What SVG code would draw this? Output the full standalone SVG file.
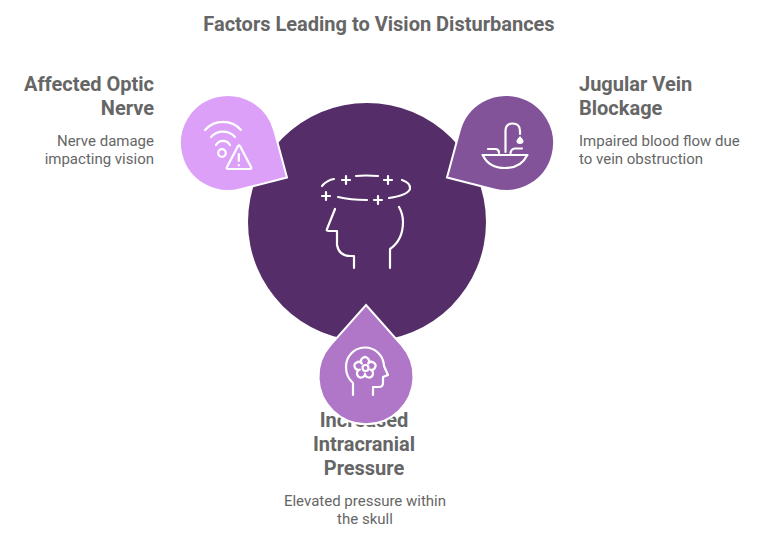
<svg xmlns="http://www.w3.org/2000/svg" width="757" height="540" viewBox="0 0 757 540">
<style>
text{font-family:Roboto,"Liberation Sans",sans-serif;fill:#666666}
.t{font-size:20px;font-weight:700}
.h{font-size:20px;font-weight:700}
.b{font-size:15px;font-weight:400}
.drop{stroke:#fff;stroke-width:2;stroke-linejoin:miter}
.ic{fill:none;stroke:#fff;stroke-width:2.2;stroke-linecap:round;stroke-linejoin:round}
.e{text-anchor:end}.m{text-anchor:middle}
</style>
<rect width="757" height="540" fill="#fff"/>
<g id="title"><text class="t m" x="379" y="31">Factors Leading to Vision Disturbances</text></g>
<g id="center"><circle cx="367" cy="222" r="119" fill="#552d69"/>
<g class="ic">
<path d="M322 186Q327 180 334 179M342 180H350M346 176V184M356 176Q365 175 378 176M384 180H392M388 176V184M402 180Q411 183 410 189Q408 195 389 198M378 196V204M374 200H382M367 200Q350 200 338 197M326 192V200M322 196H330"/>
<path d="M335 209L327 229Q326 231 329 231H337V245Q339 256 350 256H354V268M390 268V249Q403 240 403 222Q403 214 399 207"/>
</g></g>
<g id="label-bottom"><text class="h m" x="364" y="427">Increased</text><text class="h m" x="364" y="451">Intracranial</text><text class="h m" x="364" y="475">Pressure</text>
<text class="b m" x="365" y="506">Elevated pressure within</text><text class="b m" x="365" y="524">the skull</text></g>
<g id="node-left"><path class="drop" fill="#dda0f9" d="M287 177.500L239.900 189.500A48 48 0 1 1 274.300 130.500Z"/>
<g class="ic"><path d="M205 130A24 24 0 0 1 241 130M211 137A16 16 0 0 1 235 137M216 145A8 8 0 0 1 230 145"/><circle cx="222" cy="153" r="3.800"/><path d="M238 146L227 167Q226 169 228 169H250Q252 169 251 167L240 146Q239 145 238 146Z"/><path d="M238.800 154V161M238.800 165V165.300"/></g>
<text class="h e" x="154" y="91">Affected Optic</text><text class="h e" x="154" y="115">Nerve</text>
<text class="b e" x="154" y="146">Nerve damage</text><text class="b e" x="154" y="164">impacting vision</text></g>
<g id="node-right"><path class="drop" fill="#83539a" d="M447 177.500L494.100 189.500A48 48 0 1 0 459.700 130.500Z"/>
<g class="ic"><path d="M505.500 152V131Q505.500 123.500 512.500 123.500Q520 123.500 520 131V134M488 149H495Q499 149 499 153M522 148.500H515Q511 149 510.500 153M482.500 155H527.500M483 155.500Q489 168 505 168Q521 168 527 155.500"/><path d="M520 137Q517 140.500 517 141.500Q517.500 143.500 520 143.500Q522.500 143.500 523 141.500Q523 140.500 520 137Z" fill="#fff" stroke-width="1.200"/></g>
<text class="h" x="579" y="91">Jugular Vein</text><text class="h" x="579" y="115">Blockage</text>
<text class="b" x="579" y="146">Impaired blood flow due</text><text class="b" x="579" y="164">to vein obstruction</text></g>
<g id="node-bottom"><path class="drop" fill="#b076c8" d="M366 305L401.600 345.200A47.500 47.500 0 1 1 330.400 345.200Z"/>
<g class="ic"><path d="M353 395V383Q346 377 346 367A19 19 0 0 1 384 366L388 375L383 377V383Q383 387 379 387H373V395"/><circle cx="365.500" cy="368" r="3"/><path d="M361.800 363.600A4 4 0 1 1 368.200 363.600A4 4 0 1 1 370.200 369.700A4 4 0 1 1 365 373.500A4 4 0 1 1 359.800 369.700A4 4 0 1 1 361.800 363.600Z"/></g></g>
</svg>
